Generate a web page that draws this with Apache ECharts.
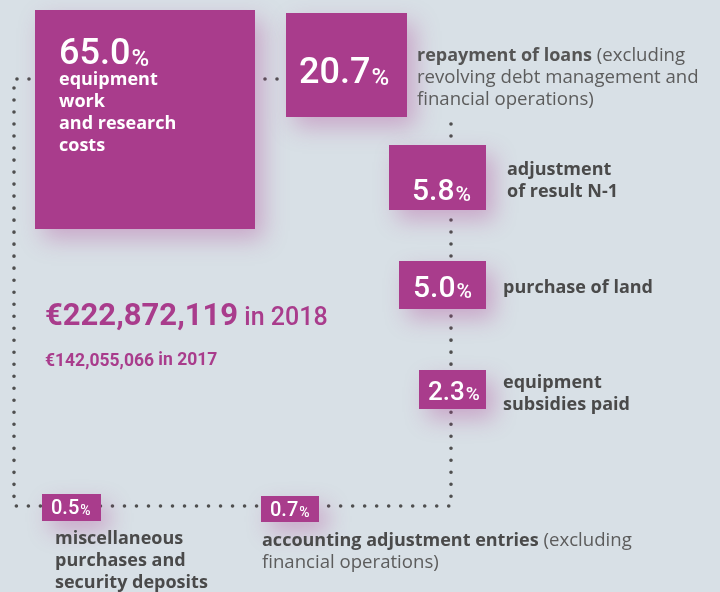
<!DOCTYPE html>
<html>
<head>
<meta charset="utf-8">
<script src="https://cdn.jsdelivr.net/npm/echarts@6/dist/echarts.min.js"></script>
<style>
html, body {margin:0; padding:0; background:#d8e0e6;}
#chart {width:720px; height:592px;}
</style>
</head>
<body>
<div id="chart"></div>
<script>
// shares of 2018 spending (%)
var shares = [65.0, 20.7, 5.8, 5.0, 2.3, 0.5, 0.7];
// item labels: [bold part, regular part]
var itemBold = [
    'equipment\nwork\nand research\ncosts',
    'repayment of loans',
    'adjustment\nof result N-1',
    'purchase of land',
    'equipment\nsubsidies paid',
    'miscellaneous\npurchases and\nsecurity deposits',
    'accounting adjustment entries'
];
var itemRegular = [
    '',
    ' (excluding\nrevolving debt management and\nfinancial operations)',
    '', '', '', '',
    ' (excluding\nfinancial operations)'
];
var totalYears = ['2018', '2017'];
var totalValues = ['€222,872,119', '€142,055,066'];

// layout (pixels)
var boxRect = [[35,10,220,219],[286,13,121,104],[389,145,97,65],[399,261,87,48],[419,370,67,39],[42,494,59,27],[261,496,58,26]];
var numPos  = [[59,63,36,24],[299,82,36,24],[412,199,30,21],[413,296,30,21],[428,399,26,19],[51,514,20,14],[270,516,20,14]];
var labelPos = [[59,84,'#fff'],[417,60,'#555'],[507,174,'#4a4a4a'],[503,292,'#4a4a4a'],[503,387,'#4a4a4a'],[55,543,'#4a4a4a'],[262,545,'#4a4a4a']];
var dotPath1 = [[29,79],[14,79],[14,506],[451,506],[451,118]];
var dotPath2 = [[265,79],[278,79]];

var MAGENTA = '#a93c8c';
var FONT = 'Roboto';
var LFONT = 'Open Sans';

function topFromBaseline(base, size) { return base - size * 0.93; }

var chart = echarts.init(document.getElementById('chart'));

var dotStyle = {color:'#4f4f4f', width:3.6, type:[0.01, 12], cap:'round'};

chart.setOption({
    backgroundColor: '#d8e0e6',
    animation: false,
    grid: {left:0, right:0, top:0, bottom:0},
    xAxis: {type:'value', min:0, max:720, show:false},
    yAxis: {type:'value', min:0, max:592, inverse:true, show:false},
    series: [
        {type:'line', data:dotPath1, symbol:'none', lineStyle:dotStyle, z:1},
        {type:'line', data:dotPath2, symbol:'none', lineStyle:dotStyle, z:1},
        {
            type:'custom', z:2,
            data: shares.map(function(v){ return [v]; }),
            renderItem: function(params, api) {
                var i = params.dataIndex;
                var b = boxRect[i], n = numPos[i];
                var p0 = api.coord([b[0], b[1]]), p1 = api.coord([b[0]+b[2], b[1]+b[3]]);
                var t = api.coord([n[0], n[1]]);
                return {type:'group', children:[
                    {type:'rect', shape:{x:p0[0], y:p0[1], width:p1[0]-p0[0], height:p1[1]-p0[1]},
                     style:{fill:MAGENTA, shadowBlur:22, shadowColor:'rgba(175,60,145,0.35)', shadowOffsetX:8, shadowOffsetY:10}},
                    {type:'text', x:t[0], y:topFromBaseline(t[1], n[2]),
                     style:{text:'{n|' + api.value(0).toFixed(1) + '}{p|%}',
                            rich:{n:{fontSize:n[2], fontFamily:FONT, fontWeight:500, fill:'#fff', lineHeight:n[2]*1.2, verticalAlign:'bottom'},
                                  p:{fontSize:n[3], fontFamily:FONT, fontWeight:500, fill:'#fff', lineHeight:n[2]*1.2, verticalAlign:'bottom', padding:[0,0,1,1]}},
                            verticalAlign:'top'}}
                ]};
            }
        },
        {
            type:'custom', z:3,
            data: itemBold.map(function(v, i){ return [i]; }),
            renderItem: function(params, api) {
                var i = params.dataIndex;
                var lp = labelPos[i];
                var t = api.coord([lp[0], lp[1]]);
                var bold = itemBold[i].split('\n').map(function(s){ return '{b|' + s + '}'; }).join('\n');
                var txt = bold;
                if (itemRegular[i]) {
                    var parts = itemRegular[i].split('\n');
                    txt += '{r|' + parts[0] + '}';
                    for (var k = 1; k < parts.length; k++) txt += '\n{r|' + parts[k] + '}';
                }
                return {type:'text', x:t[0], y:t[1] - 15,
                    style:{text:txt, verticalAlign:'top',
                        rich:{b:{fontSize:18, fontFamily:LFONT, fontWeight:'bold', fill:lp[2], lineHeight:22},
                              r:{fontSize:18.6, fontFamily:LFONT, fontWeight:'normal', fill:'#5c5c5c', lineHeight:22}}}};
            }
        },
        {
            type:'custom', z:3,
            data: totalValues.map(function(v, i){ return [i]; }),
            renderItem: function(params, api) {
                var i = params.dataIndex;
                var big = i === 0;
                var t = api.coord([45, big ? 328 : 368]);
                var s1 = big ? 31 : 17.5, s2 = big ? 25 : 17.5;
                return {type:'text', x:t[0], y:t[1] - s1 * 1.05,
                    style:{text:'{a|' + totalValues[i] + '}{b| in ' + totalYears[i] + '}', verticalAlign:'top',
                        rich:{a:{fontSize:s1, fontFamily:FONT, fontWeight:'bold', fill:MAGENTA, lineHeight:s1*1.2, verticalAlign:'bottom'},
                              b:{fontSize:s2, fontFamily:FONT, fontWeight:big ? 500 : 'bold', fill:MAGENTA, lineHeight:s1*1.2, verticalAlign:'bottom', padding:[0,0,1,0]}}}};
            }
        }
    ]
});
</script>
</body>
</html>
